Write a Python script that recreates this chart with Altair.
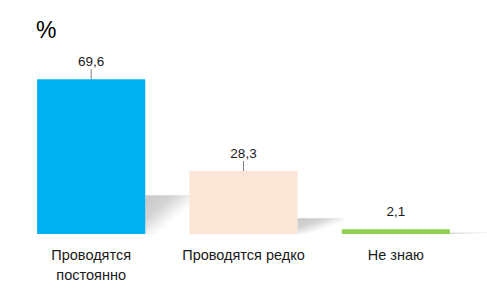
import altair as alt
import pandas as pd

categories = ["Проводятся|постоянно", "Проводятся редко", "Не знаю"]
values = [69.6, 28.3, 2.1]
colors = ["#00B0F0", "#FBE5D6", "#92D050"]

df = pd.DataFrame({"cat": categories, "value": values, "color": colors})

FONT = "Liberation Sans"

x = alt.X("cat:N", sort=categories,
          scale=alt.Scale(paddingInner=0.29, paddingOuter=0.145),
          axis=alt.Axis(title=None, labelAngle=0, domain=False, ticks=False,
                        labelPadding=14, labelFont=FONT, labelFontSize=14.5,
                        labelColor="#1A1A1A", labelLineHeight=20,
                        labelExpr="split(datum.label, '|')"))
y = alt.Y("value:Q", scale=alt.Scale(domain=[0, 80]), axis=None)

base = alt.Chart(df).encode(x=x)

shadow = base.transform_calculate(sh="datum.value * 0.25").mark_bar(
    width=46, xOffset=77,
    fill=alt.Gradient(gradient="linear", x1=0, y1=0, x2=1, y2=1,
                      stops=[alt.GradientStop(color="#C8C8C8", offset=0),
                             alt.GradientStop(color="#D2D2D2", offset=0.3),
                             alt.GradientStop(color="#F2F2F2", offset=0.52),
                             alt.GradientStop(color="#FFFFFF", offset=0.64),
                             alt.GradientStop(color="#FFFFFF", offset=1)])
).encode(y=alt.Y("sh:Q", scale=alt.Scale(domain=[0, 80]), axis=None))

bars = base.mark_bar().encode(y=y, color=alt.Color("color:N", scale=None))

leaders = base.transform_filter("datum.value > 10").mark_rule(
    color="#7F7F7F", strokeWidth=1, y2Offset=-10
).encode(y=y, y2=alt.Y2("value:Q"))

labels = base.transform_calculate(
    lbl="replace(format(datum.value, '.1f'), '.', ',')"
).mark_text(dy=-17, font=FONT, fontSize=13.5, color="#1A1A1A").encode(
    y=y, text="lbl:N")

chart = alt.layer(shadow, bars, leaders, labels).properties(
    width=457, height=178,
    autosize=alt.AutoSizeParams(type="none"),
    padding={"left": 15, "top": 56, "right": 15, "bottom": 58},
    title=alt.TitleParams("%", anchor="start", dx=21, fontSize=23,
                          fontWeight="normal", color="black", font=FONT,
                          offset=12)
).configure(background="white").configure_view(strokeWidth=0, strokeOpacity=0)

chart.save("out.html", embed_options={"renderer": "svg", "actions": False})
